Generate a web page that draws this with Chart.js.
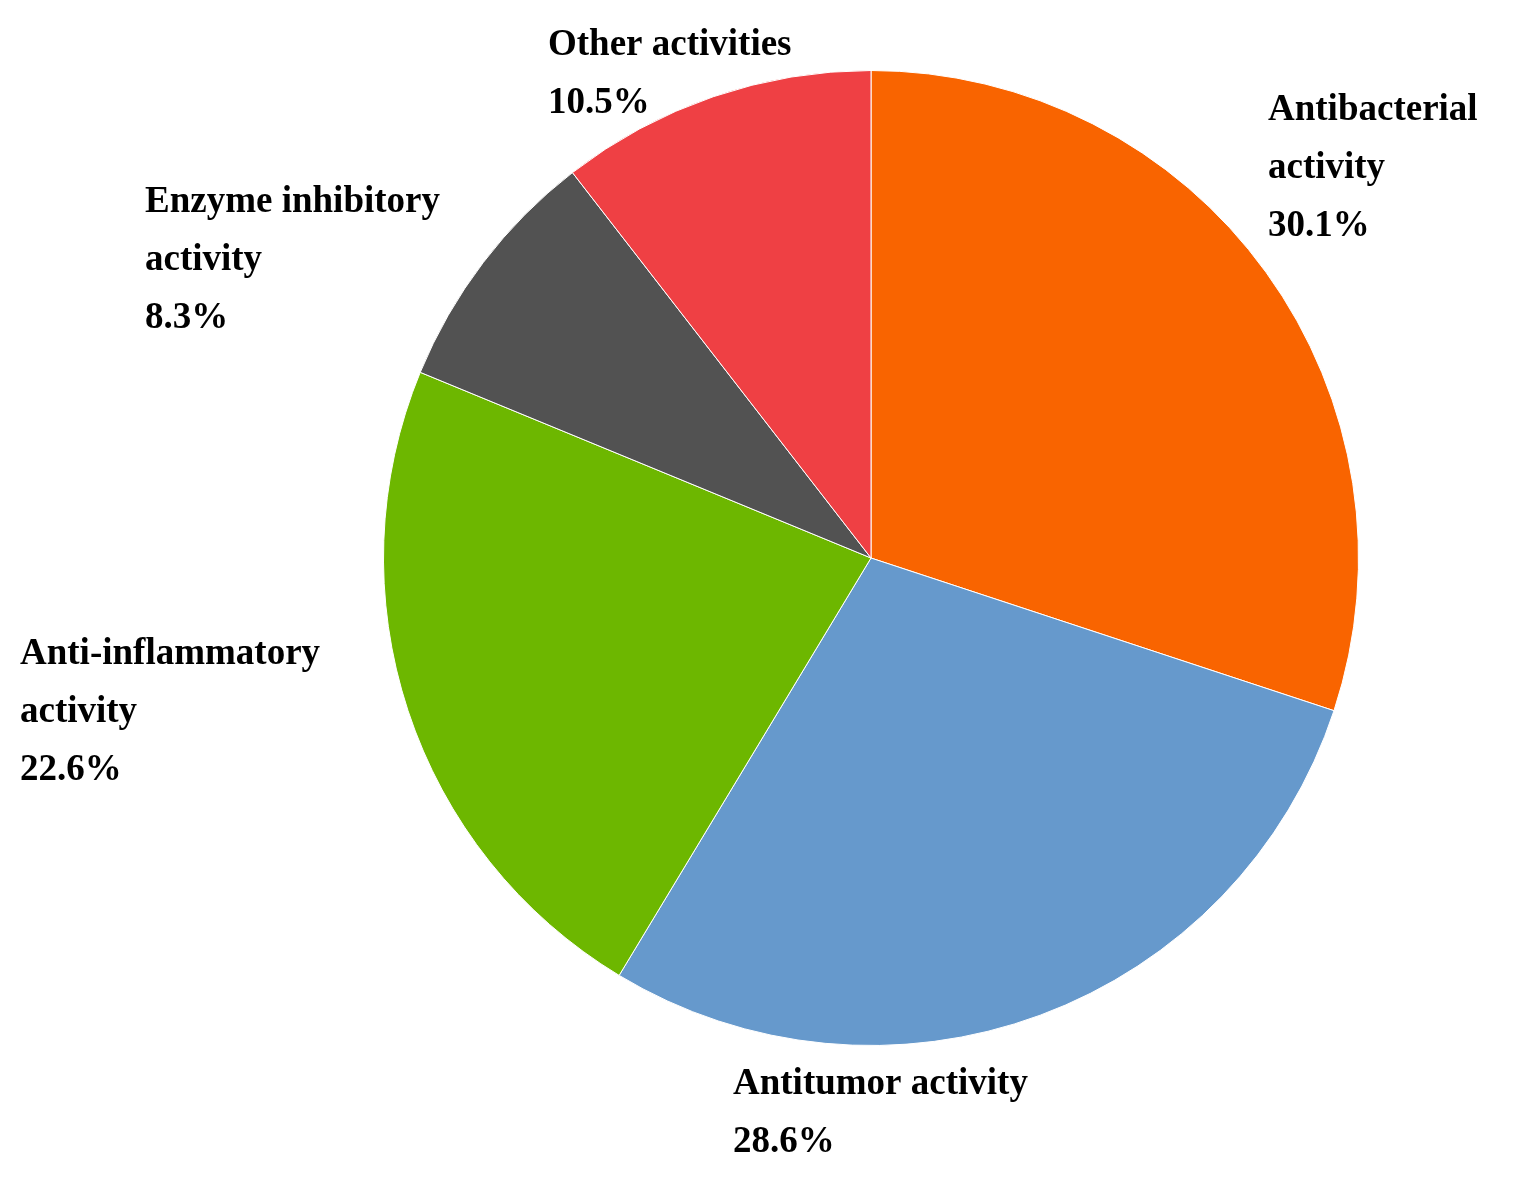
<!DOCTYPE html>
<html>
<head>
<meta charset="utf-8">
<style>
  html, body { margin: 0; padding: 0; background: #fff; }
  #wrap { width: 1534px; height: 1178px; }
</style>
<script src="https://cdn.jsdelivr.net/npm/chart.js@4/dist/chart.umd.min.js"></script>
</head>
<body>
<div id="wrap"><canvas id="pieChart"></canvas></div>
<script>
// Data, clockwise from 12 o'clock
const categories = ['Antibacterial activity', 'Antitumor activity', 'Anti-inflammatory activity', 'Enzyme inhibitory activity', 'Other activities'];
const shares = [30.1, 28.6, 22.6, 8.3, 10.5];
const sliceColors = ['#F96400', '#6699CC', '#6DB700', '#525252', '#EF4044'];

// Label text lines (wrapped like the reference) and where they sit
const labelLines = [
    ['Antibacterial', 'activity'],
    ['Antitumor activity'],
    ['Anti-inflammatory', 'activity'],
    ['Enzyme inhibitory', 'activity'],
    ['Other activities']
];
const labelSpots = [
    { x: 1268, y: 110 },
    { x: 733, y: 1084 },
    { x: 20, y: 654 },
    { x: 145, y: 202 },
    { x: 548, y: 45 }
];

// Draw the outside labels with the percentage as last line
const outsideLabels = {
    id: 'outsideLabels',
    afterDraw(chart) {
        const ctx = chart.ctx;
        ctx.save();
        ctx.font = 'bold 37px "Liberation Serif", "DejaVu Serif", serif';
        ctx.fillStyle = '#000';
        ctx.textBaseline = 'middle';
        ctx.textAlign = 'left';
        const values = chart.data.datasets[0].data;
        values.forEach((v, i) => {
            const lines = labelLines[i].concat([v.toFixed(1) + '%']);
            const spot = labelSpots[i];
            lines.forEach((line, j) => {
                ctx.fillText(line, spot.x, spot.y + j * 58);
            });
        });
        ctx.restore();
    }
};

new Chart(document.getElementById('pieChart'), {
    type: 'pie',
    data: {
        labels: categories,
        datasets: [{
            data: shares,
            backgroundColor: sliceColors,
            borderColor: '#ffffff',
            borderWidth: 1
        }]
    },
    options: {
        responsive: true,
        maintainAspectRatio: false,
        animation: false,
        layout: { padding: { left: 383, right: 175, top: 70, bottom: 132 } },
        plugins: {
            legend: { display: false },
            tooltip: { enabled: false }
        }
    },
    plugins: [outsideLabels]
});
</script>
</body>
</html>
